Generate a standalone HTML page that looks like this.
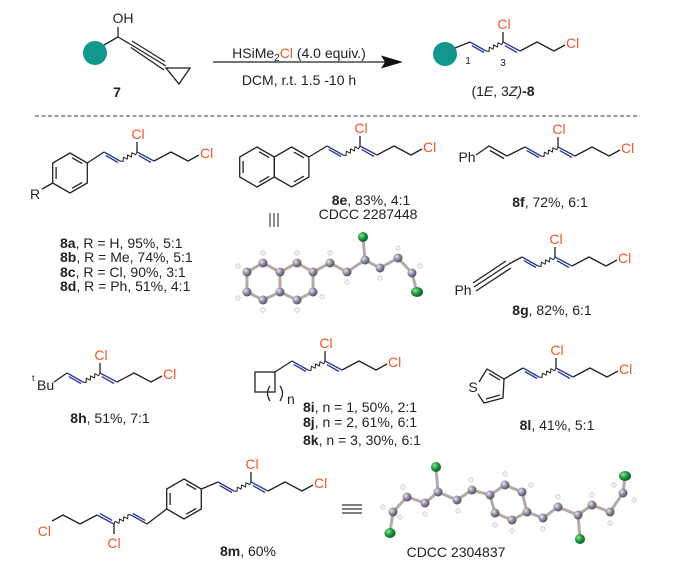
<!DOCTYPE html>
<html><head><meta charset="utf-8"><style>
html,body{margin:0;padding:0;background:#fff;}
svg{display:block;}
text{font-family:"Liberation Sans",Arial,sans-serif;font-size:14px;fill:#222;}
.cl{fill:#f0562a;}
.b{font-weight:bold;}
</style></head><body>
<svg width="700" height="570" viewBox="0 0 700 570" xmlns="http://www.w3.org/2000/svg">
<defs>
<g id="ch" fill="none" stroke-width="1.3" stroke-linejoin="round">
 <path d="M0,0 L16,9 M33,0 L50,9" stroke="#2b3990"/>
 <path d="M1.8,3.6 L14,10.5 M34.8,3.6 L47,10.5" stroke="#2b3990"/>
 <polyline points="16,9 19,9.5 19.4,5.2 23.2,7.2 23.6,2.9 27.5,5 27.9,0.7 31.7,2.7 33,0" stroke="#222" stroke-width="1"/>
 <path d="M33,0 L33,-10 M50,9 L67,0 L84,9 L95,3" stroke="#222"/>
</g>
<g id="hex" fill="none" stroke="#222" stroke-width="1.3">
 <polygon points="0,-20 17.3,-10 17.3,10 0,20 -17.3,10 -17.3,-10"/>
 <path d="M2.2,-15.2 L12.2,-9.4 M12.2,9.4 L2.2,15.2 M-13.9,6 L-13.9,-6"/>
</g>
<radialGradient id="at" cx="35%" cy="35%" r="70%"><stop offset="0" stop-color="#e8e8f0"/><stop offset="0.5" stop-color="#8c8c9c"/><stop offset="1" stop-color="#4a4a58"/></radialGradient>
<radialGradient id="ac" cx="35%" cy="35%" r="70%"><stop offset="0" stop-color="#9be0a0"/><stop offset="0.5" stop-color="#1f9a3a"/><stop offset="1" stop-color="#0b5a20"/></radialGradient>
</defs>

<!-- reactant 7 -->
<circle cx="95" cy="53" r="12" fill="#13968c"/>
<g fill="none" stroke="#222" stroke-width="1.3">
 <path d="M104,45 L118,37 L118,27 M118,37 L130,44"/>
 <path d="M130,44 L166,66 M132,41 L165,61.5 M131,47.5 L164,70"/>
 <polygon points="166,68 190,68 179,84"/>
</g>
<text x="123" y="23" text-anchor="middle">OH</text>
<text x="117" y="97" text-anchor="middle" class="b">7</text>

<!-- arrow -->
<line x1="213" y1="62" x2="385" y2="62" stroke="#222" stroke-width="1.3"/>
<polygon points="403,62 381,55.5 385,62 381,68.5" fill="#111"/>
<text x="299" y="58" text-anchor="middle">HSiMe<tspan style="font-size:10px" dy="3">2</tspan><tspan class="cl" dy="-3">Cl</tspan> (4.0 equiv.)</text>
<text x="299" y="85" text-anchor="middle">DCM, r.t. 1.5 -10 h</text>

<!-- product 8 -->
<circle cx="445" cy="54" r="12" fill="#13968c"/>
<line x1="455" y1="48" x2="470" y2="42" stroke="#222" stroke-width="1.3"/>
<use href="#ch" x="470" y="42"/>
<text x="504" y="29" text-anchor="middle" class="cl">Cl</text>
<text x="566" y="48" class="cl">Cl</text>
<text x="468" y="64" text-anchor="middle" style="font-size:10px">1</text>
<text x="503" y="66" text-anchor="middle" style="font-size:10px">3</text>
<text x="503" y="96" text-anchor="middle">(1<tspan font-style="italic">E</tspan>, 3<tspan font-style="italic">Z)</tspan><tspan class="b">-8</tspan></text>

<line x1="35" y1="116" x2="640" y2="116" stroke="#333" stroke-width="1" stroke-dasharray="4,2.5"/>

<!-- 8a -->
<use href="#hex" x="70" y="173"/>
<path d="M87.3,163 L104,152 M52.7,183 L42,189" stroke="#222" stroke-width="1.3" fill="none"/>
<text x="35" y="199" text-anchor="middle">R</text>
<use href="#ch" x="104" y="152"/>
<text x="138" y="139" text-anchor="middle" class="cl">Cl</text>
<text x="200" y="158" class="cl">Cl</text>
<text x="60" y="248"><tspan class="b">8a</tspan>, R = H, 95%, 5:1</text>
<text x="60" y="262"><tspan class="b">8b</tspan>, R = Me, 74%, 5:1</text>
<text x="60" y="277"><tspan class="b">8c</tspan>, R = Cl, 90%, 3:1</text>
<text x="60" y="291"><tspan class="b">8d</tspan>, R = Ph, 51%, 4:1</text>

<!-- 8e -->
<use href="#hex" x="257" y="167"/>
<g fill="none" stroke="#222" stroke-width="1.3">
 <polygon points="291.6,147 308.9,157 308.9,177 291.6,187 274.3,177 274.3,157"/>
 <path d="M293.8,152 L303.8,157.8 M303.8,176.2 L293.8,182 M308.9,157 L327,146"/>
</g>
<use href="#ch" x="327" y="146"/>
<text x="361" y="133" text-anchor="middle" class="cl">Cl</text>
<text x="423" y="152" class="cl">Cl</text>
<text x="371" y="205" text-anchor="middle"><tspan class="b">8e</tspan>, 83%, 4:1</text>
<text x="368" y="219" text-anchor="middle">CDCC 2287448</text>
<path d="M270,213 L270,227 M274,213 L274,227 M278,213 L278,227" stroke="#333" stroke-width="1.1"/>

<!-- crystal 1 -->
<g stroke="#b7a9a6" stroke-width="3" fill="none" stroke-linecap="round">
 <polyline points="263,263 247,272 247,292 263,300 280,292 280,272 263,263"/>
 <polyline points="280,272 297,263 313,272 313,292 297,300 280,292"/>
 <polyline points="313,272 330,263 347,272 365,260 380,268 398,258 412,273 417,292"/>
 <line x1="365" y1="260" x2="363" y2="237"/>
</g>
<g fill="#f4f4f4" stroke="#bbb" stroke-width="0.6">
 <circle cx="263" cy="253" r="2.2"/><circle cx="238" cy="266" r="2.2"/><circle cx="238" cy="298" r="2.2"/><circle cx="263" cy="310" r="2.2"/>
 <circle cx="297" cy="253" r="2.2"/><circle cx="297" cy="310" r="2.2"/><circle cx="322" cy="297" r="2.2"/><circle cx="330" cy="253" r="2.2"/>
 <circle cx="347" cy="282" r="2.2"/><circle cx="380" cy="278" r="2.2"/><circle cx="398" cy="248" r="2.2"/><circle cx="420" cy="266" r="2.2"/>
</g>
<g fill="url(#at)">
 <circle cx="263" cy="263" r="4.5"/><circle cx="247" cy="272" r="4.5"/><circle cx="247" cy="292" r="4.5"/><circle cx="263" cy="300" r="4.5"/>
 <circle cx="280" cy="292" r="4.5"/><circle cx="280" cy="272" r="4.5"/><circle cx="297" cy="263" r="4.5"/><circle cx="313" cy="272" r="4.5"/>
 <circle cx="313" cy="292" r="4.5"/><circle cx="297" cy="300" r="4.5"/><circle cx="330" cy="263" r="4.5"/><circle cx="347" cy="272" r="4.5"/>
 <circle cx="365" cy="260" r="4.5"/><circle cx="380" cy="268" r="4.5"/><circle cx="398" cy="258" r="4.5"/><circle cx="412" cy="273" r="4.5"/>
</g>
<g fill="url(#ac)"><circle cx="363" cy="237" r="5"/><ellipse cx="417" cy="292" rx="6" ry="5"/></g>

<!-- 8f -->
<text x="467" y="162" text-anchor="middle">Ph</text>
<g fill="none" stroke="#222" stroke-width="1.3">
 <path d="M476,155 L489,146 L507,156 L525,147 M490,150.5 L504,158.5"/>
</g>
<use href="#ch" x="525" y="147"/>
<text x="559" y="134" text-anchor="middle" class="cl">Cl</text>
<text x="621" y="153" class="cl">Cl</text>
<text x="550" y="207" text-anchor="middle"><tspan class="b">8f</tspan>, 72%, 6:1</text>

<!-- 8g -->
<text x="463" y="295" text-anchor="middle">Ph</text>
<g fill="none" stroke="#222" stroke-width="1.3">
 <path d="M474,287 L509,264 M473,283 L506,261 M476,291 L511,268 M509,264 L522,257"/>
</g>
<use href="#ch" x="522" y="257"/>
<text x="556" y="244" text-anchor="middle" class="cl">Cl</text>
<text x="618" y="263" class="cl">Cl</text>
<text x="552" y="315" text-anchor="middle"><tspan class="b">8g</tspan>, 82%, 6:1</text>

<!-- 8h -->
<text x="32" y="381" style="font-size:9px">t</text>
<text x="37" y="390">Bu</text>
<line x1="54" y1="382" x2="67" y2="373" stroke="#222" stroke-width="1.3"/>
<use href="#ch" x="67" y="373"/>
<text x="101" y="360" text-anchor="middle" class="cl">Cl</text>
<text x="163" y="379" class="cl">Cl</text>
<text x="110" y="423" text-anchor="middle"><tspan class="b">8h</tspan>, 51%, 7:1</text>

<!-- 8i -->
<g fill="none" stroke="#222" stroke-width="1.3">
 <rect x="255" y="372" width="20" height="20"/>
 <path d="M275,372 L292,361"/>
 <path d="M270,386 Q265,393 270,401 M280,386 Q285,393 280,401"/>
</g>
<text x="287" y="404">n</text>
<use href="#ch" x="292" y="361"/>
<text x="326" y="348" text-anchor="middle" class="cl">Cl</text>
<text x="388" y="367" class="cl">Cl</text>
<text x="303" y="412"><tspan class="b">8i</tspan>,  n = 1, 50%, 2:1</text>
<text x="303" y="427"><tspan class="b">8j</tspan>,  n = 2, 61%, 6:1</text>
<text x="303" y="445"><tspan class="b">8k</tspan>, n = 3, 30%, 6:1</text>

<!-- 8l -->
<g fill="none" stroke="#222" stroke-width="1.3">
 <path d="M479,382 L487,369 L504,379 L503,398 L484,403 L478,394"/>
 <path d="M489,373.5 L500,380 M500,395 L486,399"/>
 <path d="M504,379 L523,368"/>
</g>
<text x="473" y="392" text-anchor="middle">S</text>
<use href="#ch" x="523" y="368"/>
<text x="557" y="355" text-anchor="middle" class="cl">Cl</text>
<text x="619" y="374" class="cl">Cl</text>
<text x="557" y="430" text-anchor="middle"><tspan class="b">8l</tspan>, 41%, 5:1</text>

<!-- 8m -->
<use href="#hex" x="184" y="499"/>
<path d="M201.3,489 L218,482 M166.7,509 L147,524" stroke="#222" stroke-width="1.3" fill="none"/>
<use href="#ch" x="218" y="482"/>
<text x="252" y="469" text-anchor="middle" class="cl">Cl</text>
<text x="314" y="488" class="cl">Cl</text>
<use href="#ch" transform="translate(147,524) rotate(180)"/>
<text x="114" y="548" text-anchor="middle" class="cl">Cl</text>
<text x="51" y="536" text-anchor="end" class="cl">Cl</text>
<text x="248" y="556" text-anchor="middle"><tspan class="b">8m</tspan>, 60%</text>
<path d="M342,505 L362,505 M342,509 L362,509 M342,513 L362,513" stroke="#333" stroke-width="1.3"/>

<!-- crystal 2 -->
<g stroke="#b7a9a6" stroke-width="3" fill="none" stroke-linecap="round">
 <polyline points="390,532 393,512 407,497 425,503 438,492 457,500 472,490 490,495"/>
 <line x1="438" y1="492" x2="436" y2="468"/>
 <polygon points="490,495 505,485 522,492 527,512 512,520 495,513"/>
 <polyline points="527,512 543,518 558,507 578,515 592,505 610,512 623,493 625,477"/>
 <line x1="578" y1="515" x2="580" y2="538"/>
</g>
<g fill="#f4f4f4" stroke="#bbb" stroke-width="0.6">
 <circle cx="383" cy="507" r="2.2"/><circle cx="400" cy="517" r="2.2"/><circle cx="403" cy="487" r="2.2"/><circle cx="425" cy="514" r="2.2"/>
 <circle cx="458" cy="511" r="2.2"/><circle cx="471" cy="480" r="2.2"/><circle cx="505" cy="474" r="2.2"/><circle cx="531" cy="485" r="2.2"/>
 <circle cx="495" cy="525" r="2.2"/><circle cx="512" cy="531" r="2.2"/><circle cx="543" cy="529" r="2.2"/><circle cx="558" cy="497" r="2.2"/>
 <circle cx="592" cy="495" r="2.2"/><circle cx="610" cy="523" r="2.2"/><circle cx="614" cy="485" r="2.2"/><circle cx="634" cy="500" r="2.2"/>
</g>
<g fill="url(#at)">
 <circle cx="393" cy="512" r="4.5"/><circle cx="407" cy="497" r="4.5"/><circle cx="425" cy="503" r="4.5"/><circle cx="438" cy="492" r="4.5"/>
 <circle cx="457" cy="500" r="4.5"/><circle cx="472" cy="490" r="4.5"/><circle cx="490" cy="495" r="4.5"/><circle cx="505" cy="485" r="4.5"/>
 <circle cx="522" cy="492" r="4.5"/><circle cx="527" cy="512" r="4.5"/><circle cx="512" cy="520" r="4.5"/><circle cx="495" cy="513" r="4.5"/>
 <circle cx="543" cy="518" r="4.5"/><circle cx="558" cy="507" r="4.5"/><circle cx="578" cy="515" r="4.5"/><circle cx="592" cy="505" r="4.5"/>
 <circle cx="610" cy="512" r="4.5"/><circle cx="623" cy="493" r="4.5"/>
</g>
<g fill="url(#ac)">
 <ellipse cx="390" cy="533" rx="5.5" ry="5"/><circle cx="436" cy="467" r="5"/><circle cx="580" cy="539" r="5"/><ellipse cx="625" cy="476" rx="6" ry="5"/>
</g>
<text x="456" y="557" text-anchor="middle">CDCC 2304837</text>
</svg>
</body></html>
